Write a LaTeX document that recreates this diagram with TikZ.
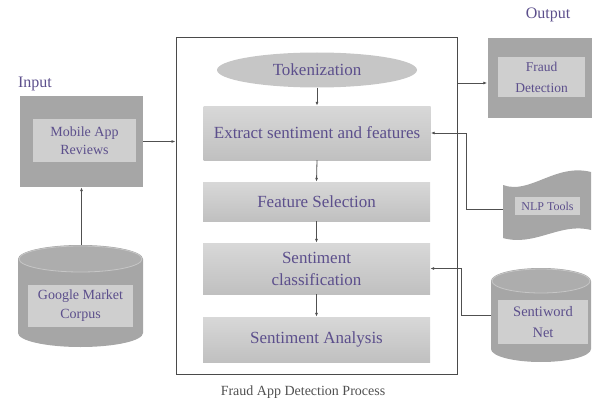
\documentclass[tikz,border=0pt]{standalone}
\usepackage{fontspec}
\setmainfont{Liberation Serif}
\usetikzlibrary{arrows.meta,shapes.geometric}
\definecolor{outerc}{HTML}{A6A6A6}
\definecolor{outertop}{HTML}{ADADAD}
\definecolor{rimc}{HTML}{C6C6C6}
\definecolor{innerc}{HTML}{CFCFCF}
\definecolor{procTop}{HTML}{D8D8D8}
\definecolor{procBot}{HTML}{C0C0C0}
\definecolor{tokc}{HTML}{C6C6C6}
\definecolor{txt}{HTML}{5C4F8C}
\definecolor{linec}{HTML}{505050}
\definecolor{boxc}{HTML}{4A4A4A}
\definecolor{capc}{HTML}{505050}
\begin{document}
\begin{tikzpicture}[x=1pt,y=-1pt,
  proc/.style={rectangle, top color=procTop, bottom color=procBot, minimum width=227pt, text=txt, font=\fontsize{17}{22}\selectfont, inner sep=0pt, align=center},
  outerbox/.style={rectangle, fill=outerc, inner sep=0pt},
  innerbox/.style={rectangle, fill=innerc, text=txt, align=center, inner sep=0pt},
  conn/.style={draw=linec, line width=0.8pt, -{Latex[length=4pt,width=3pt]}},
  lbl/.style={text=txt, inner sep=0pt}
]
\useasboundingbox (0,0) rectangle (592,404);

% main process frame
\node[draw=boxc, line width=1pt, minimum width=281pt, minimum height=336pt, inner sep=0pt] (big) at (316.5,206) {};
\node[text=capc, font=\fontsize{14}{16}\selectfont] (cap) at (303,392) {Fraud App Detection Process};

% process steps
\node[ellipse, fill=tokc, minimum width=200pt, minimum height=35pt, text=txt, font=\fontsize{17}{19}\selectfont, inner sep=0pt] (tok) at (317,70) {Tokenization};
\node[proc, minimum height=54pt] (ext) at (317,133) {Extract sentiment and features};
\node[proc, minimum height=39pt] (fs) at (316.5,201.5) {Feature Selection};
\node[proc, minimum height=51pt] (sc) at (316.5,268.5) {Sentiment\\classification};
\node[proc, minimum height=45pt] (sa) at (316.5,339.5) {Sentiment Analysis};

% input
\node[lbl, font=\fontsize{16}{18}\selectfont] (inlbl) at (35,84) {Input};
\node[outerbox, minimum width=123pt, minimum height=91pt] (mar) at (81.5,141.5) {};
\node[innerbox, minimum width=103pt, minimum height=43pt, font=\fontsize{14}{18}\selectfont] (mari) at (84.5,140.5) {Mobile App\\Reviews};

% Google Market Corpus cylinder
\fill[outerc] (18,259) -- (18,333) arc[start angle=180,end angle=0,x radius=62.5,y radius=14] -- (143,259) arc[start angle=0,end angle=-180,x radius=62.5,y radius=14] -- cycle;
\draw[rimc, fill=outertop, line width=0.8pt] (80.5,259) ellipse[x radius=61.5,y radius=13];
\coordinate (gmctop) at (81.5,245);
\node[innerbox, minimum width=105pt, minimum height=42pt, font=\fontsize{14}{19}\selectfont] (gmc) at (80.5,306) {Google Market\\Corpus};

% output
\node[lbl, font=\fontsize{16}{18}\selectfont] (outlbl) at (548,15) {Output};
\node[outerbox, minimum width=104pt, minimum height=80pt] (fdo) at (539.5,78) {};
\node[innerbox, minimum width=87pt, minimum height=40pt, font=\fontsize{13.5}{21}\selectfont] (fd) at (541.5,77) {Fraud\\Detection};

% NLP tools tape
\fill[outerc] (503,185) .. controls (530,195) and (555,163) .. (591,172) -- (591,230) .. controls (560,222) and (535,247) .. (503,238) -- cycle;
\coordinate (nlpw) at (503,209);
\node[innerbox, minimum width=65pt, minimum height=18pt, font=\fontsize{12}{13}\selectfont] (nlp) at (547.5,206) {NLP Tools};

% SentiWord Net cylinder
\fill[outerc] (491,281) -- (491,349) arc[start angle=180,end angle=0,x radius=50,y radius=13] -- (591,281) arc[start angle=0,end angle=-180,x radius=50,y radius=13] -- cycle;
\draw[rimc, fill=outertop, line width=0.8pt] (541,281) ellipse[x radius=49,y radius=12];
\coordinate (swnw) at (491,315);
\node[innerbox, minimum width=90pt, minimum height=44pt, font=\fontsize{14.5}{21}\selectfont] (swn) at (543,322) {Sentiword\\Net};

% connectors
\draw[conn] (mar.east) -- (mar.east -| big.west);
\draw[conn] (gmctop) -- (gmctop |- mar.south);
\coordinate (fdin) at ([yshift=-5pt]fdo.west);
\draw[conn] (fdin -| big.east) -- (fdin);
\draw[conn] (tok.south) -- (ext.north);
\draw[conn] (ext.south) -- (fs.north);
\draw[conn] (fs.south) -- (sc.north);
\draw[conn] (sc.south) -- (sa.north);
\draw[conn] (nlpw) -- ++(-37,0) |- (ext.east);
\draw[conn] (swnw) -- ++(-30,0) |- (sc.east);
\end{tikzpicture}
\end{document}
